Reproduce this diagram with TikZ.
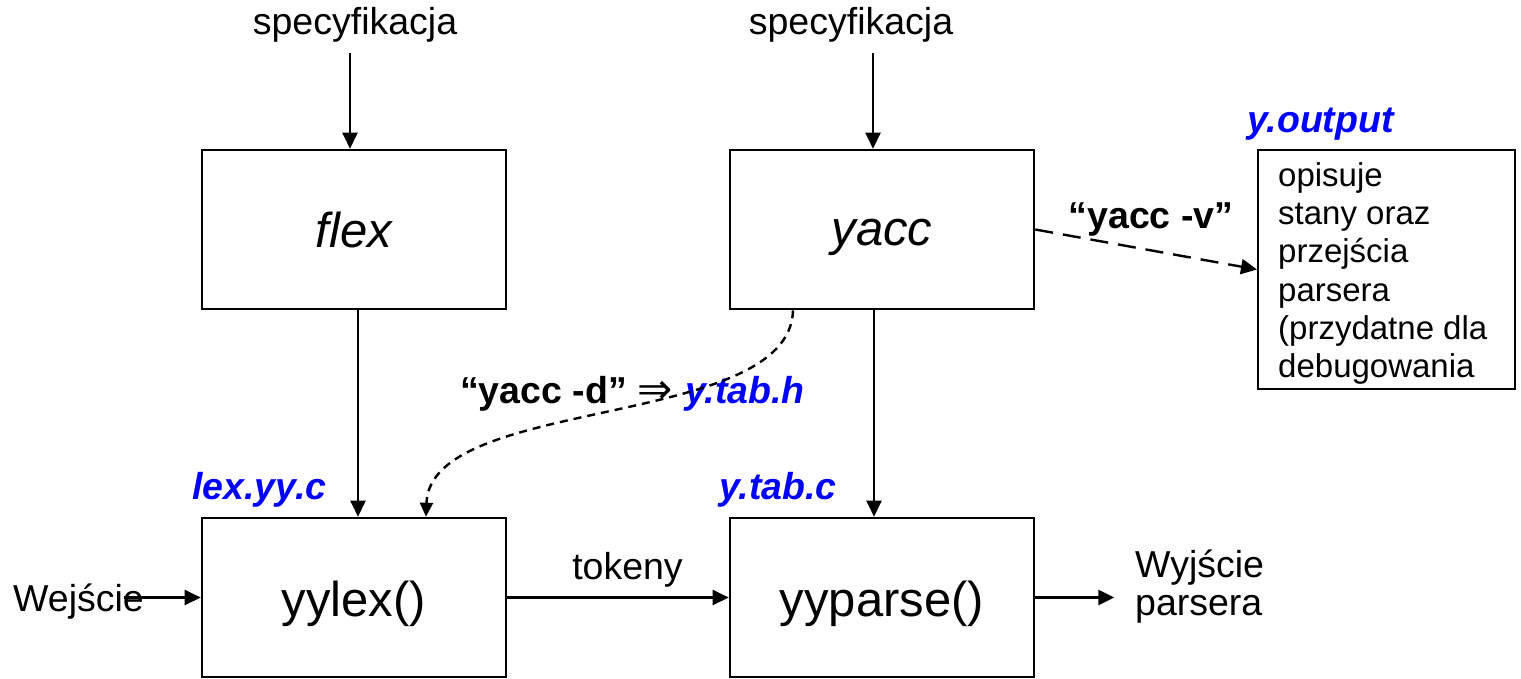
\documentclass[tikz,border=0pt]{standalone}
\usepackage{fontspec}
\setmainfont{Liberation Sans}
\newfontfamily\dvsans{DejaVu Sans}
\usetikzlibrary{arrows.meta}
\begin{document}
\begin{tikzpicture}[x=1pt,y=-1pt,
  box/.style={draw, line width=2.6pt, minimum width=304pt, minimum height=159pt, inner sep=0pt, text depth=0pt},
  bigit/.style={font=\fontsize{49}{52}\selectfont\itshape},
  big/.style={font=\fontsize{49}{52}\selectfont},
  arr/.style={line width=2.4pt, -{Triangle[length=16pt,width=15pt]}},
  lbl/.style={font=\fontsize{37.5}{38}\selectfont, inner sep=0pt},
  blbl/.style={font=\fontsize{37.5}{38}\selectfont\bfseries, inner sep=0pt},
  fname/.style={font=\fontsize{37.5}{38}\selectfont\bfseries\itshape, text=blue, inner sep=0pt}]
\useasboundingbox (0,0) rectangle (1521,678);

% boxes
\node[box, bigit, text height=35pt] (flex) at (354,229.5) {flex};
\node[box, bigit, text height=31pt] (yacc) at (882,229.5) {yacc};
\node[box, big, text height=37pt] (yylex) at (354,597.5) {yylex()};
\node[box, big, text height=37pt] (yyparse) at (882,597.5) {yyparse()};
\node[draw, line width=2pt, minimum width=257pt, minimum height=239pt, inner sep=0pt] (yout) at (1386.5,269.5) {};
\node[anchor=north west, inner sep=0pt, align=left,
      font=\fontsize{33}{38.3}\selectfont] (youttext) at (1278,162)
      {opisuje\\stany oraz\\przejścia\\parsera\\(przydatne dla\\debugowania};

% labels
\node[lbl, anchor=base] (spec1) at (355,34) {specyfikacja};
\node[lbl, anchor=base] (spec2) at (851,34) {specyfikacja};
\node[fname, anchor=base west] (lexyy) at (192,499) {lex.yy.c};
\node[fname, anchor=base west] (ytabc) at (719,499) {y.tab.c};
\node[fname, anchor=base west] (youtl) at (1247,132) {y.output};
\node[lbl, anchor=base] (tok) at (627.5,579) {tokeny};
\node[lbl, anchor=base west] (wej) at (13,611) {Wejście};
\node[lbl, anchor=north west, align=left] (wyj) at (1135,549.5) {Wyjście\\parsera};
\node[blbl, anchor=base] (yv) at (1151,228) {“yacc -v”};
\node[blbl, anchor=base west] (yd) at (460,403) {“yacc -d”\hspace{11pt}{\dvsans\mdseries\fontsize{42}{38}\selectfont ⇒}\hspace{12pt}\textcolor{blue}{\itshape y.tab.h}};

% connectors
\draw[arr] ([xshift=-5pt,yshift=-11.4pt]spec1.south) -- ([xshift=-4pt]flex.north);
\draw[arr] ([xshift=22pt,yshift=-11.4pt]spec2.south) -- ([xshift=-9pt]yacc.north);
\draw[arr] ([xshift=4pt]flex.south) -- ([xshift=4pt]yylex.north);
\draw[arr] ([xshift=-8pt]yacc.south) -- ([xshift=-8pt]yyparse.north);
\draw[arr] (yylex.east) -- (yyparse.west);
\path (wej.east |- yylex.west) ++(-20,0) coordinate (wa);
\draw[arr] (wa) -- (yylex.west);
\path (yyparse.east) ++(79,0) coordinate (oe);
\draw[arr] (yyparse.east) -- (oe);
\draw[line width=2.4pt, dash pattern=on 18pt off 10pt, -{Triangle[length=16pt,width=15pt]}]
  (yacc.east) -- (yout.west);
\draw[line width=2.4pt, dash pattern=on 8pt off 6pt, -{Triangle[length=14pt,width=13pt]}]
  ([xshift=-89pt]yacc.south) .. controls (790,430) and (430,395) .. ([xshift=72pt]yylex.north);
\end{tikzpicture}
\end{document}
